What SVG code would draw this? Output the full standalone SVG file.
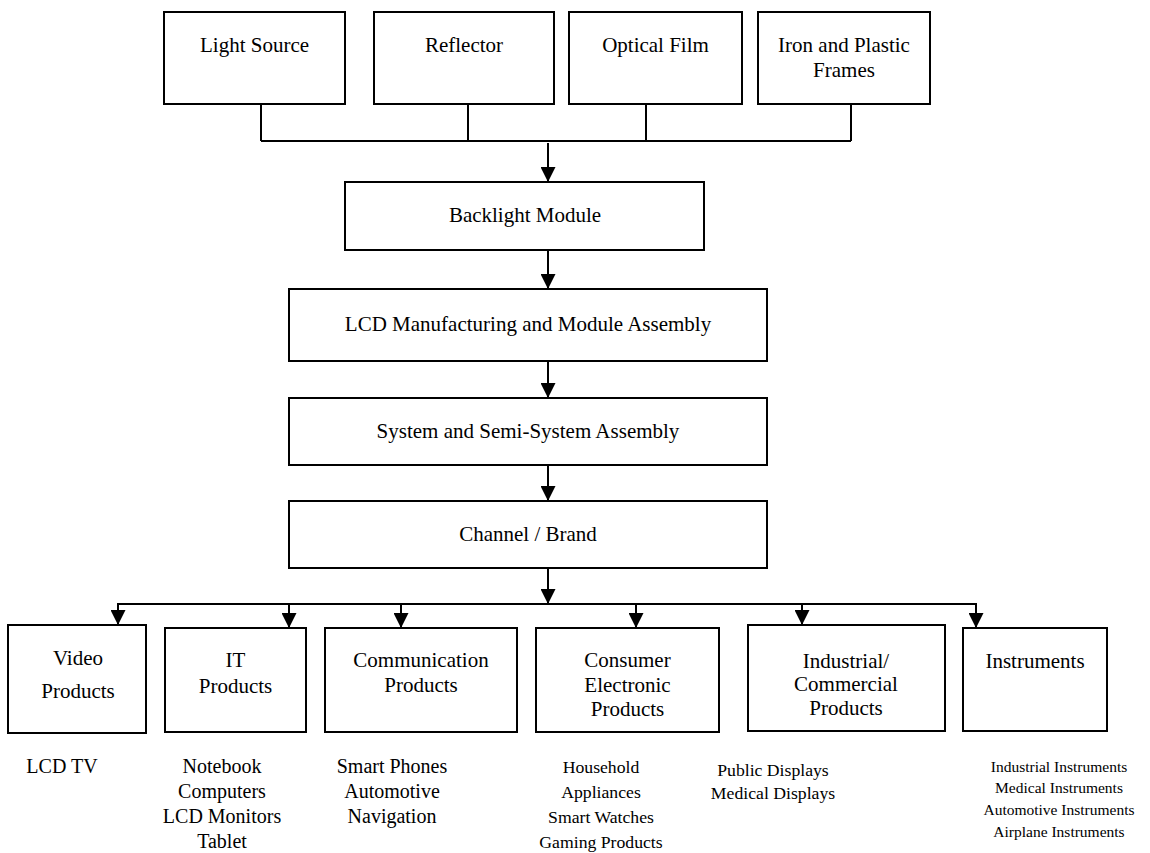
<svg xmlns="http://www.w3.org/2000/svg" width="1150" height="853" viewBox="0 0 1150 853">
<defs>
<style>
.box{fill:#fff;stroke:#000;stroke-width:2}
.t{font-family:"Liberation Serif","Times New Roman",serif;font-size:21px;fill:#000;text-anchor:middle}
.l{font-family:"Liberation Serif","Times New Roman",serif;font-size:20px;fill:#000;text-anchor:middle}
.m{font-family:"Liberation Serif","Times New Roman",serif;font-size:17.7px;fill:#000;text-anchor:middle}
.s{font-family:"Liberation Serif","Times New Roman",serif;font-size:15.5px;fill:#000;text-anchor:middle}
.c{fill:none;stroke:#000;stroke-width:2}
</style>
<marker id="ah" viewBox="0 0 10 10" refX="10" refY="5" markerWidth="7.5" markerHeight="7.5" markerUnits="strokeWidth" orient="auto">
<path d="M0,0 L10,5 L0,10 Z" fill="#000"/>
</marker>
</defs>
<rect width="1150" height="853" fill="#fff"/>
<g id="connectors">
<path class="c" d="M261,104 V141 M468,104 V141 M646,104 V141 M851,104 V141 M261,141 H851"/>
<path class="c" d="M548,143 V182" marker-end="url(#ah)"/>
<path class="c" d="M548,250 V289" marker-end="url(#ah)"/>
<path class="c" d="M548,361 V398" marker-end="url(#ah)"/>
<path class="c" d="M548,465 V501" marker-end="url(#ah)"/>
<path class="c" d="M548,568 V604" marker-end="url(#ah)"/>
<path class="c" d="M118,604 H976"/>
<path class="c" d="M118,603 V625" marker-end="url(#ah)"/>
<path class="c" d="M289,603 V628" marker-end="url(#ah)"/>
<path class="c" d="M401,603 V628" marker-end="url(#ah)"/>
<path class="c" d="M636,603 V628" marker-end="url(#ah)"/>
<path class="c" d="M802,603 V625" marker-end="url(#ah)"/>
<path class="c" d="M976,603 V628" marker-end="url(#ah)"/>
</g>
<g id="light-source"><rect class="box" x="164" y="12" width="181" height="92"/><text class="t" x="254.5" y="52">Light Source</text></g>
<g id="reflector"><rect class="box" x="374" y="12" width="180" height="92"/><text class="t" x="464" y="52">Reflector</text></g>
<g id="optical-film"><rect class="box" x="569" y="12" width="173" height="92"/><text class="t" x="655.5" y="52">Optical Film</text></g>
<g id="frames"><rect class="box" x="758" y="12" width="172" height="92"/><text class="t" x="844" y="52">Iron and Plastic</text><text class="t" x="844" y="77">Frames</text></g>
<g id="backlight"><rect class="box" x="345" y="182" width="359" height="68"/><text class="t" x="525" y="222">Backlight Module</text></g>
<g id="lcd"><rect class="box" x="289" y="289" width="478" height="72"/><text class="t" x="528" y="331">LCD Manufacturing and Module Assembly</text></g>
<g id="system"><rect class="box" x="289" y="398" width="478" height="67"/><text class="t" x="528" y="438">System and Semi-System Assembly</text></g>
<g id="channel"><rect class="box" x="289" y="501" width="478" height="67"/><text class="t" x="528" y="541">Channel / Brand</text></g>
<g id="video"><rect class="box" x="8" y="625" width="138" height="108"/><text class="t" x="78" y="665">Video</text><text class="t" x="78" y="698">Products</text>
<text class="l" x="62" y="773">LCD TV</text></g>
<g id="it"><rect class="box" x="165" y="628" width="141" height="104"/><text class="t" x="235.5" y="667">IT</text><text class="t" x="235.5" y="693">Products</text>
<text class="l" x="222" y="773">Notebook</text><text class="l" x="222" y="798">Computers</text><text class="l" x="222" y="823">LCD Monitors</text><text class="l" x="222" y="848">Tablet</text></g>
<g id="communication"><rect class="box" x="325" y="628" width="192" height="104"/><text class="t" x="421" y="667">Communication</text><text class="t" x="421" y="692">Products</text>
<text class="l" x="392" y="773">Smart Phones</text><text class="l" x="392" y="798">Automotive</text><text class="l" x="392" y="823">Navigation</text></g>
<g id="consumer"><rect class="box" x="536" y="628" width="183" height="104"/><text class="t" x="627.5" y="667">Consumer</text><text class="t" x="627.5" y="692">Electronic</text><text class="t" x="627.5" y="716">Products</text>
<text class="m" x="601" y="773">Household</text><text class="m" x="601" y="798">Appliances</text><text class="m" x="601" y="823">Smart Watches</text><text class="m" x="601" y="848">Gaming Products</text></g>
<g id="industrial"><rect class="box" x="748" y="625" width="197" height="106"/><text class="t" x="846" y="668">Industrial/</text><text class="t" x="846" y="691">Commercial</text><text class="t" x="846" y="715">Products</text>
<text class="m" x="773" y="776">Public Displays</text><text class="m" x="773" y="799">Medical Displays</text></g>
<g id="instruments"><rect class="box" x="963" y="628" width="144" height="103"/><text class="t" x="1035" y="668">Instruments</text>
<text class="s" x="1059" y="772">Industrial Instruments</text><text class="s" x="1059" y="793">Medical Instruments</text><text class="s" x="1059" y="815">Automotive Instruments</text><text class="s" x="1059" y="837">Airplane Instruments</text></g>
</svg>
